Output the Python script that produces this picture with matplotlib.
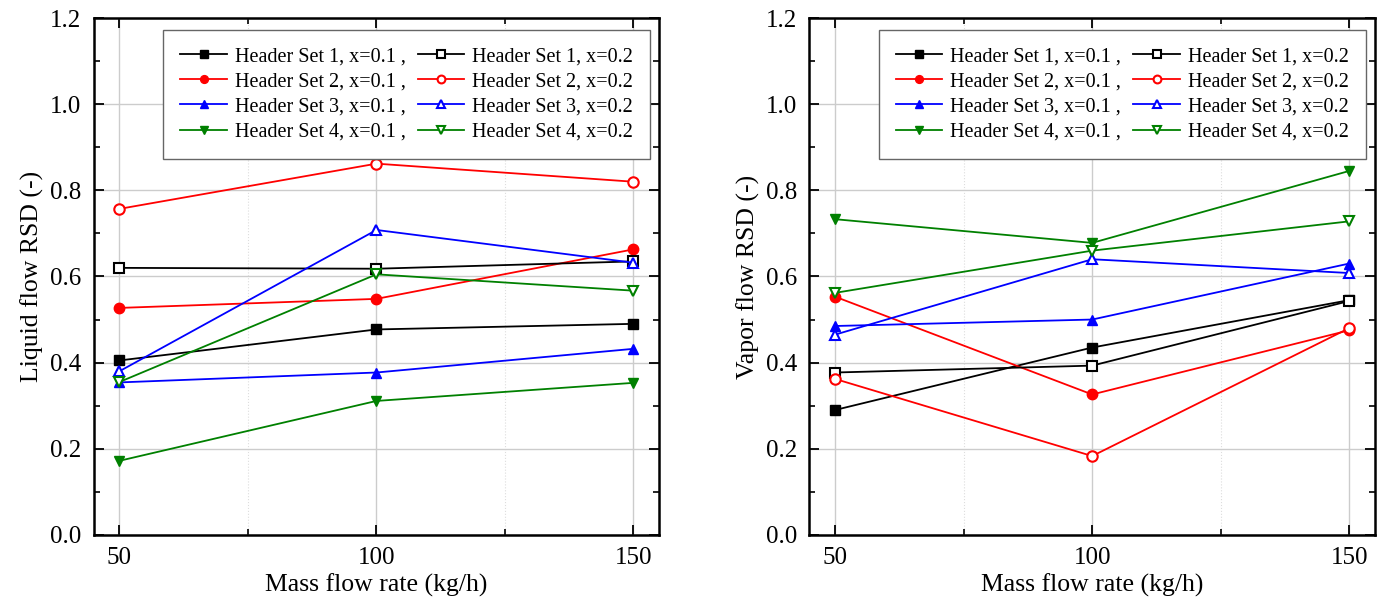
import numpy as np
import matplotlib
matplotlib.use('Agg')
import matplotlib.pyplot as plt
from matplotlib.ticker import MultipleLocator

plt.rcParams['font.family'] = ['Liberation Serif', 'DejaVu Serif']

flow = [50, 100, 150]
sets = ['Header Set 1', 'Header Set 2', 'Header Set 3', 'Header Set 4']
colors = ['black', 'red', 'blue', 'green']
markers = ['s', 'o', '^', 'v']

# liquid flow RSD, x=0.1 and x=0.2
liq_01 = [[0.405, 0.477, 0.490],
          [0.527, 0.548, 0.663],
          [0.354, 0.377, 0.432],
          [0.172, 0.311, 0.353]]
liq_02 = [[0.620, 0.618, 0.635],
          [0.757, 0.862, 0.820],
          [0.380, 0.708, 0.632],
          [0.355, 0.605, 0.567]]

# vapor flow RSD
vap_01 = [[0.290, 0.435, 0.545],
          [0.553, 0.326, 0.475],
          [0.485, 0.500, 0.630],
          [0.733, 0.678, 0.845]]
vap_02 = [[0.377, 0.393, 0.543],
          [0.362, 0.183, 0.480],
          [0.465, 0.640, 0.608],
          [0.562, 0.660, 0.728]]

fig = plt.figure(figsize=(13.79, 6.03), dpi=100)
ax1 = fig.add_axes([0.068, 0.113, 0.410, 0.857])
ax2 = fig.add_axes([0.587, 0.113, 0.410, 0.857])

def panel(ax, d1, d2, ylabel):
  for i in range(4):
    ax.plot(flow, d1[i], color=colors[i], marker=markers[i], ms=7.5, lw=1.3,
            label=sets[i] + ', x=0.1 ,', zorder=3)
  for i in range(4):
    ax.plot(flow, d2[i], color=colors[i], marker=markers[i], ms=7.5, lw=1.3,
            mfc='white', mew=1.5, label=sets[i] + ', x=0.2', zorder=3)
  ax.set_xlim(45, 155)
  ax.set_ylim(0, 1.2)
  ax.set_xticks(flow)
  ax.xaxis.set_minor_locator(MultipleLocator(25))
  ax.yaxis.set_major_locator(MultipleLocator(0.2))
  ax.yaxis.set_minor_locator(MultipleLocator(0.1))
  ax.yaxis.set_major_formatter(plt.FormatStrFormatter('%.1f'))
  ax.grid(True, which='major', color='#cccccc', lw=1.0)
  ax.grid(True, which='minor', axis='x', color='#dddddd', lw=0.8, ls=':')
  ax.tick_params(which='both', direction='in', top=True, right=True, labelsize=18)
  ax.tick_params(which='major', length=7, width=1.3, pad=9)
  ax.tick_params(which='minor', length=4, width=1.2)
  for s in ax.spines.values():
    s.set_linewidth(1.8)
  ax.set_xlabel('Mass flow rate (kg/h)', fontsize=18.5, labelpad=3)
  ax.set_ylabel(ylabel, fontsize=18.5, labelpad=4)
  leg = ax.legend(ncol=2, loc='upper right', fontsize=14.5, fancybox=False,
                  edgecolor='#666666', framealpha=1, handlelength=2.3,
                  markerscale=0.75, columnspacing=0.6, handletextpad=0.4,
                  labelspacing=0.3, borderpad=0.85, borderaxespad=0,
                  bbox_to_anchor=(0.984, 0.977))
  leg.get_frame().set_linewidth(1.0)

panel(ax1, liq_01, liq_02, 'Liquid flow RSD (-)')
panel(ax2, vap_01, vap_02, 'Vapor flow RSD (-)')

fig.savefig('out.png', dpi=100)
